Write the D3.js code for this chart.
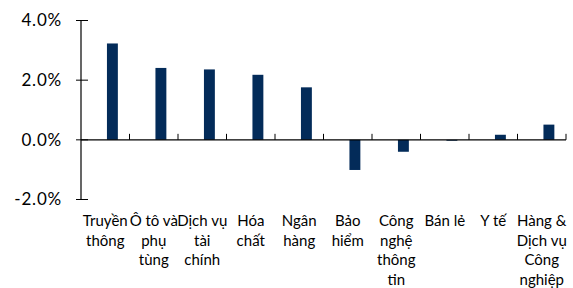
<!DOCTYPE html>
<html>
<head>
<meta charset="utf-8">
<script src="https://cdn.jsdelivr.net/npm/d3@7"></script>
<style>
	body { margin: 0; background: #fff; }
	text { font-family: Lato, 'Noto Sans', sans-serif; fill: #000; }
</style>
</head>
<body>
<svg id="chart" width="573" height="288"></svg>
<script>
// data
const categories = ['Truyền thông', 'Ô tô và phụ tùng', 'Dịch vụ tài chính', 'Hóa chất', 'Ngân hàng',
	'Bảo hiểm', 'Công nghệ thông tin', 'Bán lẻ', 'Y tế', 'Hàng & Dịch vụ Công nghiệp']
const labelLines = [
	['Truyền', 'thông'], ['Ô tô và', 'phụ', 'tùng'], ['Dịch vụ', 'tài', 'chính'], ['Hóa', 'chất'],
	['Ngân', 'hàng'], ['Bảo', 'hiểm'], ['Công', 'nghệ', 'thông', 'tin'], ['Bán lẻ'], ['Y tế'],
	['Hàng &', 'Dịch vụ', 'Công', 'nghiệp']
]
const values = [3.23, 2.41, 2.36, 2.18, 1.76, -1.01, -0.40, -0.03, 0.17, 0.51]
const yTicks = [-2, 0, 2, 4]

const svg = d3.select('#chart')
const plotLeft = 81
const plotRight = 566
const plotTop = 20.5
const plotBottom = 199.5

const x = d3.scaleBand().domain(categories).range([plotLeft, plotRight]).padding(0)
const y = d3.scaleLinear().domain([-2, 4]).range([plotBottom, plotTop])

// bars
svg.append('g')
	.selectAll('rect')
	.data(values)
	.enter()
	.append('rect')
	.attr('x', (d, i) => x(categories[i]) + x.bandwidth() * 0.535)
	.attr('width', x.bandwidth() * 0.225)
	.attr('y', (d) => Math.min(y(d), y(0)))
	.attr('height', (d) => Math.abs(y(d) - y(0)))
	.attr('fill', '#032b59')

// y axis
const yAxis = svg.append('g')
yAxis.append('line')
	.attr('x1', plotLeft).attr('x2', plotLeft)
	.attr('y1', plotTop).attr('y2', plotBottom)
	.attr('stroke', '#000').attr('stroke-width', 1.2)
yAxis.selectAll('.tick')
	.data(yTicks)
	.enter()
	.append('line')
	.attr('x1', plotLeft - 5).attr('x2', plotLeft + 7)
	.attr('y1', (d) => y(d)).attr('y2', (d) => y(d))
	.attr('stroke', '#000').attr('stroke-width', 1)
yAxis.selectAll('text')
	.data(yTicks)
	.enter()
	.append('text')
	.attr('x', plotLeft - 19)
	.attr('y', (d) => y(d))
	.attr('dy', '0.35em')
	.attr('text-anchor', 'end')
	.style('font-size', '17px')
	.style('letter-spacing', '0.8px')
	.text((d) => d.toFixed(1) + '%')

// x axis at zero
const xAxis = svg.append('g')
xAxis.append('line')
	.attr('x1', plotLeft).attr('x2', plotRight)
	.attr('y1', y(0)).attr('y2', y(0))
	.attr('stroke', '#000').attr('stroke-width', 1.2)
xAxis.selectAll('.tick')
	.data(categories.slice(1).concat(['end']))
	.enter()
	.append('line')
	.attr('x1', (d) => d === 'end' ? plotRight : x(d))
	.attr('x2', (d) => d === 'end' ? plotRight : x(d))
	.attr('y1', y(0) - 6).attr('y2', y(0))
	.attr('stroke', '#000').attr('stroke-width', 1)

// category labels
const labels = svg.append('g')
	.selectAll('text')
	.data(categories)
	.enter()
	.append('text')
	.attr('text-anchor', 'middle')
	.style('font-size', '15px')
	.attr('transform', (d) => `translate(${x(d) + x.bandwidth() / 2}, 226)`)

labels.selectAll('tspan')
	.data((d, i) => labelLines[i])
	.enter()
	.append('tspan')
	.attr('x', 0)
	.attr('y', (d, i) => i * 19.6)
	.text((d) => d)
</script>
</body>
</html>
